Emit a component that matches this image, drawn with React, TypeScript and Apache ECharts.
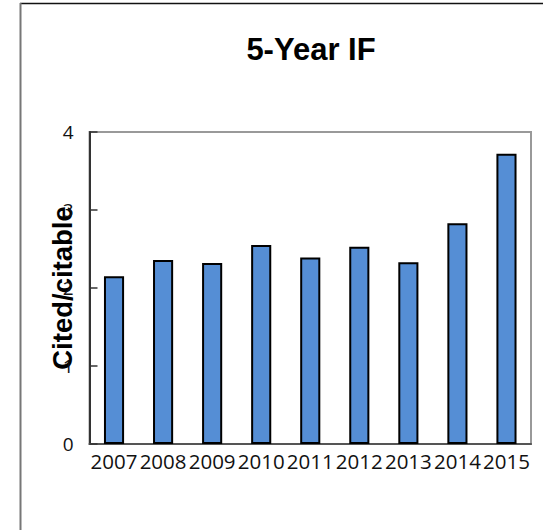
import React, { useEffect, useRef } from "react";
import * as echarts from "echarts";

const years = ["2007", "2008", "2009", "2010", "2011", "2012", "2013", "2014", "2015"];
const values = [2.15, 2.36, 2.32, 2.55, 2.39, 2.53, 2.33, 2.83, 3.72];
const yTicks = [0, 1, 2, 3, 4];

export default function App() {
  const ref = useRef<HTMLDivElement>(null);
  useEffect(() => {
    const chart = echarts.init(ref.current!, null, { renderer: "svg" });
    chart.setOption({
      animation: false,
      backgroundColor: "#ffffff",
      title: {
        text: "5-Year IF",
        left: 306,
        top: 29,
        textAlign: "center",
        textStyle: { fontFamily: "Liberation Sans, Arial", fontWeight: "bold", fontSize: 31, color: "#000" },
      },
      graphic: [
        { type: "line", shape: { x1: 20, y1: 3.5, x2: 543, y2: 3.5 }, style: { stroke: "#111", lineWidth: 1.5 } },
        { type: "line", shape: { x1: 20.5, y1: 3, x2: 20.5, y2: 530 }, style: { stroke: "#777", lineWidth: 2 } },
      ],
      grid: {
        left: 89.5,
        right: 12,
        top: 132,
        bottom: 86,
        show: true,
        borderColor: "#999",
        borderWidth: 2,
        containLabel: false,
      },
      xAxis: {
        type: "category",
        data: years,
        axisLine: { lineStyle: { color: "#555", width: 2 } },
        axisTick: { show: false },
        axisLabel: { fontFamily: "Open Sans, Noto Sans", fontSize: 20.5, color: "#111", margin: 6, interval: 0 },
      },
      yAxis: {
        type: "value",
        min: yTicks[0],
        max: yTicks[yTicks.length - 1],
        interval: 1,
        name: "Cited/citable",
        nameLocation: "middle",
        nameGap: 13,
        nameRotate: 90,
        nameMoveOverlap: false,
        nameTextStyle: { fontFamily: "Liberation Sans, Arial", fontWeight: "bold", fontSize: 27.5, color: "#000" },
        splitLine: { show: false },
        axisLine: { show: true, lineStyle: { color: "#333", width: 2 } },
        axisTick: { show: true, inside: true, length: 8, lineStyle: { color: "#333", width: 1.5 } },
        axisLabel: { fontFamily: "Open Sans, Noto Sans", fontSize: 19, color: "#111", margin: 16 },
      },
      series: [
        {
          type: "bar",
          data: values,
          barWidth: "41%",
          itemStyle: { color: "#558ED5", borderColor: "#000", borderWidth: 2 },
        },
      ],
    });
    return () => chart.dispose();
  }, []);
  return <div ref={ref} style={{ position: "fixed", left: 0, top: 0, width: 543, height: 530 }} />;
}
